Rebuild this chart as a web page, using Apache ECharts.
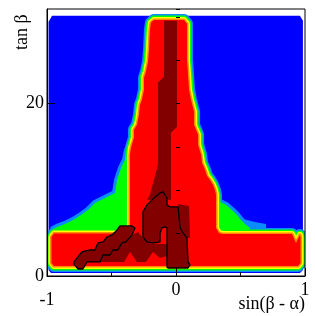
<!DOCTYPE html>
<html><head><meta charset="utf-8">
<script src="https://cdn.jsdelivr.net/npm/echarts@6/dist/echarts.min.js"></script>
<style>html,body{margin:0;padding:0;background:#fff}#c{width:315px;height:316px}</style>
</head><body><div id="c"></div>
<script>
// axis ranges / ticks
const xRange = [-1, 1];
const yRange = [0, 31];
const xMajorStep = 1;
const yMajorStep = 20;
const yMinorStep = 5;

// contour level regions, in (sin(beta-alpha), tan beta) coordinates
const blueRegion = [[-0.988,29.53],[-0.961,30.23],[0.961,30.23],[0.984,29.65],[0.984,0.70],[0.961,0.35],[-0.969,0.35],[-0.988,0.70]];
const redRegion = [[-0.194,29.42],[-0.171,29.71],[0.062,29.71],[0.085,29.30],[0.085,25.12],[0.101,21.63],[0.116,20.47],[0.140,19.07],[0.140,17.56],[0.171,16.40],[0.171,15.23],[0.194,14.07],[0.202,13.14],[0.225,12.33],[0.240,11.63],[0.264,11.16],[0.287,10.58],[0.302,10.00],[0.310,9.42],[0.310,5.58],[0.333,5.00],[0.357,4.88],[0.899,4.88],[0.930,3.84],[0.961,4.77],[0.965,4.53],[0.965,1.51],[0.946,1.16],[-0.946,1.16],[-0.965,1.51],[-0.965,4.53],[-0.946,4.94],[-0.357,4.94],[-0.357,14.07],[-0.349,14.88],[-0.326,16.05],[-0.326,16.98],[-0.302,17.56],[-0.287,18.72],[-0.279,19.88],[-0.264,20.47],[-0.248,21.63],[-0.248,23.02],[-0.233,23.72],[-0.217,24.88],[-0.209,26.28],[-0.202,28.60]];
const greenLeft = [[-0.380,14.65],[-0.395,13.49],[-0.426,12.56],[-0.457,11.16],[-0.473,9.65],[-0.566,8.95],[-0.628,8.49],[-0.682,7.67],[-0.736,7.09],[-0.798,6.51],[-0.860,6.05],[-0.922,5.70],[-0.953,5.47],[-0.953,4.19],[-0.279,4.19],[-0.279,14.65]];
const greenRight = [[0.310,9.42],[0.341,8.60],[0.388,8.26],[0.434,7.67],[0.473,7.09],[0.504,6.51],[0.535,6.05],[0.574,5.58],[0.574,4.19],[0.264,4.19],[0.264,9.42]];
const lightBlueStep = [[0.519,6.63],[0.612,6.28],[0.698,6.05],[0.698,5.12],[0.519,5.12]];
const darkColumn = [[-0.093,29.65],[0.008,29.65],[0.008,17.33],[-0.039,16.63],[-0.039,8.84],[-0.225,8.84],[-0.202,9.42],[-0.140,12.91],[-0.140,22.44],[-0.093,23.14]];
const darkContourA = [[-0.256,7.44],[-0.225,8.26],[-0.178,8.95],[-0.124,9.65],[-0.101,9.77],[-0.070,9.07],[-0.070,8.26],[-0.047,8.02],[0.016,8.02],[0.031,5.70],[0.054,5.00],[0.085,4.42],[0.093,1.63],[0.109,1.28],[0.093,0.93],[-0.062,0.93],[-0.070,1.05],[-0.070,5.58],[-0.085,5.70],[-0.109,5.58],[-0.124,5.00],[-0.124,3.95],[-0.178,3.84],[-0.225,3.95],[-0.256,4.53]];
const darkRightOfA = [[0.016,8.37],[0.101,8.14],[0.109,4.42],[0.085,4.42],[0.054,5.00],[0.031,5.70],[0.016,8.02]];
const darkBottom = [[-0.620,1.63],[-0.566,2.44],[-0.488,3.02],[-0.419,3.84],[-0.341,4.77],[-0.295,5.12],[-0.256,4.42],[-0.217,3.84],[-0.124,3.72],[-0.070,3.72],[-0.070,2.33],[-0.124,2.09],[-0.178,2.79],[-0.233,1.63],[-0.302,1.63],[-0.357,2.79],[-0.403,1.63]];
const darkContourB = [[-0.791,1.40],[-0.760,0.81],[-0.721,0.81],[-0.690,1.63],[-0.589,1.63],[-0.566,2.44],[-0.512,2.44],[-0.488,3.02],[-0.450,3.02],[-0.419,3.84],[-0.388,3.95],[-0.341,4.77],[-0.318,5.58],[-0.341,5.81],[-0.434,5.81],[-0.457,5.35],[-0.496,4.77],[-0.535,4.53],[-0.566,3.95],[-0.605,3.84],[-0.628,3.02],[-0.667,3.02],[-0.729,2.79],[-0.760,2.21],[-0.791,1.63]];

const C = {blue:'#0000ff', lightblue:'#0a8cff', green:'#00ff00', yellow:'#ffff00', orange:'#ff8c00', red:'#ff0000', dark:'#820000'};

const layers = [
  {poly: blueRegion, fill: C.blue},
  {poly: redRegion, stroke: C.lightblue, w: 12},
  {poly: greenLeft, stroke: C.lightblue, w: 6},
  {poly: greenRight, stroke: C.lightblue, w: 6},
  {poly: lightBlueStep, fill: C.lightblue},
  {poly: redRegion, stroke: C.green, w: 9},
  {poly: greenLeft, fill: C.green},
  {poly: greenRight, fill: C.green},
  {poly: redRegion, stroke: C.yellow, w: 6},
  {poly: redRegion, stroke: C.orange, w: 3},
  {poly: redRegion, fill: C.red},
  {poly: darkColumn, fill: C.dark},
  {poly: darkContourA, fill: C.dark},
  {poly: darkRightOfA, fill: C.dark},
  {poly: darkBottom, fill: C.dark},
  {poly: darkContourB, fill: C.dark},
  {poly: darkContourA, stroke: '#000', w: 1.3},
  {poly: darkContourB, stroke: '#000', w: 1.3}
];

const FONT = 'Liberation Serif';
const chart = echarts.init(document.getElementById('c'), null, {renderer: 'canvas'});
chart.setOption({
  animation: false,
  backgroundColor: '#fff',
  grid: {left: 47, right: 10, top: 9, bottom: 40, show: true, borderColor: '#000', borderWidth: 1, z: 10},
  xAxis: {
    type: 'value', min: xRange[0], max: xRange[1], interval: xMajorStep, z: 10,
    axisLine: {show: true, onZero: false, lineStyle: {color: '#000', width: 1}},
    axisTick: {show: true, inside: true, length: 8, lineStyle: {color: '#000'}},
    minorTick: {show: true, splitNumber: 2, length: 4, lineStyle: {color: '#000'}},
    splitLine: {show: false},
    axisLabel: {
      margin: 5, color: '#000', fontFamily: FONT, fontSize: 18,
      formatter: v => v === -1 ? '{lo|-1}' : String(v),
      rich: {lo: {fontFamily: FONT, fontSize: 18, color: '#000', padding: [10, 0, 0, 0]}}
    }
  },
  yAxis: [{
    type: 'value', min: yRange[0], max: yRange[1], interval: yMajorStep, z: 10,
    axisLine: {show: true, onZero: false, lineStyle: {color: '#000', width: 1}},
    axisTick: {show: true, inside: true, length: 8, lineStyle: {color: '#000'}},
    splitLine: {show: false},
    axisLabel: {margin: 3, color: '#000', fontFamily: FONT, fontSize: 18, showMaxLabel: false}
  }, {
    type: 'value', min: yRange[0], max: yRange[1], interval: yMinorStep, position: 'left', z: 10,
    axisLine: {show: false},
    axisTick: {show: true, inside: true, length: 4, lineStyle: {color: '#000'}},
    splitLine: {show: false},
    axisLabel: {show: false}
  }],
  graphic: [
    {type: 'text', x: 22, y: 50, rotation: Math.PI / 2, style: {text: 'tan β', fontFamily: FONT, fontSize: 18, fill: '#000', align: 'left', verticalAlign: 'middle'}},
    {type: 'text', x: 305, y: 304, style: {text: 'sin(β - α)', fontFamily: FONT, fontSize: 18, fill: '#000', align: 'right', verticalAlign: 'middle'}}
  ],
  series: [{
    type: 'custom',
    coordinateSystem: 'cartesian2d',
    xAxisIndex: 0, yAxisIndex: 0,
    clip: true,
    silent: true,
    data: layers.map((l, i) => [i]),
    renderItem: function (params, api) {
      const l = layers[params.dataIndex];
      const pts = l.poly.map(p => api.coord(p));
      const style = l.fill ? {fill: l.fill, stroke: null} : {fill: null, stroke: l.stroke, lineWidth: l.w, lineJoin: 'round'};
      return {type: 'polygon', shape: {points: pts}, style: style};
    }
  }]
});
</script></body></html>
